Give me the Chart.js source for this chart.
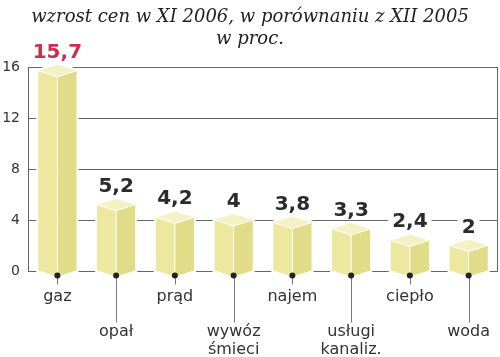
<!DOCTYPE html>
<html>
<head>
<meta charset="utf-8">
<script src="https://cdn.jsdelivr.net/npm/chart.js@4"></script>
<style>
  html, body { margin: 0; padding: 0; background: #fff; }
  #wrap { width: 500px; height: 357px; }
</style>
</head>
<body>
<div id="wrap"><canvas id="myChart"></canvas></div>
<script>
let categories = ['gaz', 'opał', 'prąd', 'wywóz śmieci', 'najem', 'usługi kanaliz.', 'ciepło', 'woda'];
let values = [15.7, 5.2, 4.2, 4, 3.8, 3.3, 2.4, 2];
let yTicks = [0, 4, 8, 12, 16];
let titleLines = ['wzrost cen w XI 2006, w porównaniu z XII 2005', 'w proc.'];

let depth = 6;

// isometric boxes, value labels, leader lines
let boxes = {
  id: 'boxes',
  afterDatasetsDraw(chart) {
    let ctx = chart.ctx;
    let meta = chart.getDatasetMeta(0);
    let area = chart.chartArea;
    ctx.save();
    // right frame line
    ctx.strokeStyle = '#666';
    ctx.lineWidth = 1;
    ctx.beginPath();
    ctx.moveTo(Math.round(area.right) - 0.5, area.top);
    ctx.lineTo(Math.round(area.right) - 0.5, area.bottom);
    ctx.stroke();

    meta.data.forEach((bar, i) => {
      let p = bar.getProps(['x', 'y', 'base', 'width'], true);
      let x = p.x, y = p.y, b = p.base;
      let l = x - p.width / 2, r = x + p.width / 2;

      // outer white outline
      ctx.beginPath();
      ctx.moveTo(l, y); ctx.lineTo(x, y - depth); ctx.lineTo(r, y);
      ctx.lineTo(r, b); ctx.lineTo(x, b + depth); ctx.lineTo(l, b);
      ctx.closePath();
      ctx.strokeStyle = '#fff';
      ctx.lineWidth = 4;
      ctx.stroke();

      ctx.beginPath();
      ctx.moveTo(l, y); ctx.lineTo(x, y + depth); ctx.lineTo(x, b + depth); ctx.lineTo(l, b);
      ctx.closePath();
      ctx.fillStyle = '#ece8a0';
      ctx.fill();

      ctx.beginPath();
      ctx.moveTo(x, y + depth); ctx.lineTo(r, y); ctx.lineTo(r, b); ctx.lineTo(x, b + depth);
      ctx.closePath();
      ctx.fillStyle = '#e1dc88';
      ctx.fill();

      ctx.beginPath();
      ctx.moveTo(l, y); ctx.lineTo(x, y - depth); ctx.lineTo(r, y); ctx.lineTo(x, y + depth);
      ctx.closePath();
      ctx.fillStyle = '#f4f2c4';
      ctx.fill();

      ctx.strokeStyle = '#fff';
      ctx.lineWidth = 1;
      ctx.beginPath();
      ctx.moveTo(l, y); ctx.lineTo(x, y + depth); ctx.lineTo(r, y);
      ctx.moveTo(x, y + depth); ctx.lineTo(x, b + depth);
      ctx.stroke();

      // leader line + dot
      let lead = b + (i % 2 ? 52 : 14);
      ctx.strokeStyle = '#777';
      ctx.beginPath();
      ctx.moveTo(Math.round(x) + 0.5, b + depth);
      ctx.lineTo(Math.round(x) + 0.5, lead);
      ctx.stroke();
      ctx.fillStyle = '#222';
      ctx.beginPath();
      ctx.arc(x, b + depth - 1, 3, 0, Math.PI * 2);
      ctx.fill();

      // value label
      let txt = String(values[i]).replace('.', ',');
      ctx.font = 'bold 20px "DejaVu Sans"';
      let w = ctx.measureText(txt).width;
      ctx.fillStyle = '#fff';
      ctx.fillRect(x - w / 2 - 4, y - 13 - 17, w + 8, 20);
      ctx.fillStyle = i === 0 ? '#c8304f' : '#2b2b2b';
      ctx.textAlign = 'center';
      ctx.textBaseline = 'alphabetic';
      ctx.fillText(txt, x, y - 13);
    });
    ctx.restore();
  }
};

new Chart(document.getElementById('myChart').getContext('2d'), {
  type: 'bar',
  data: {
    labels: categories,
    datasets: [{
      data: values,
      backgroundColor: 'rgba(0,0,0,0)',
      barPercentage: 0.65,
      categoryPercentage: 1
    }]
  },
  options: {
    responsive: true,
    maintainAspectRatio: false,
    animation: false,
    layout: { padding: { left: 2, right: 2, top: 0, bottom: 0 } },
    plugins: {
      legend: { display: false },
      tooltip: { enabled: false },
      title: {
        display: true,
        text: titleLines,
        color: '#222',
        font: { family: '"DejaVu Serif"', size: 18, style: 'italic', weight: 'normal', lineHeight: 1.25 },
        padding: { top: 6, bottom: 16 }
      }
    },
    scales: {
      x: {
        afterFit: (axis) => {
          axis.height = 86;
          axis.paddingLeft = 0;
          axis.paddingRight = 0;
        },
        grid: { display: false, drawTicks: false },
        border: { display: false },
        ticks: {
          autoSkip: false,
          maxRotation: 0,
          padding: 17,
          color: '#333',
          font: { family: '"DejaVu Sans"', size: 16, lineHeight: 1.1 },
          callback: (v, i) => {
            let lines = categories[i].split(' ');
            return i % 2 ? ['', ''].concat(lines) : lines;
          }
        }
      },
      y: {
        min: 0,
        max: 16,
        afterFit: (axis) => { axis.width = 26; },
        afterBuildTicks: (axis) => { axis.ticks = yTicks.map(v => ({ value: v })); },
        grid: { color: '#666', lineWidth: 1, drawTicks: false },
        border: { display: true, color: '#666', width: 1 },
        ticks: {
          padding: 8,
          color: '#333',
          font: { family: '"DejaVu Sans"', size: 14 }
        }
      }
    }
  },
  plugins: [boxes]
});
</script>
</body>
</html>
